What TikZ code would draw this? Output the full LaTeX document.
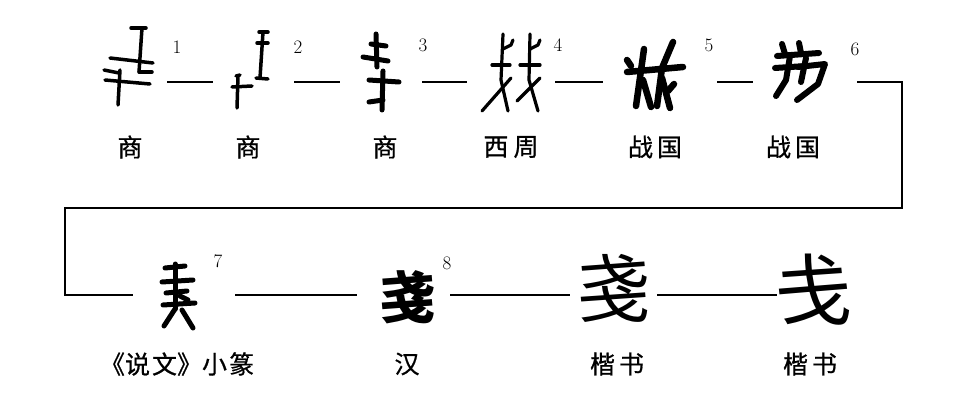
\documentclass[tikz,border=0pt]{standalone}
\usepackage{fontspec}
\newfontfamily\cjk{Noto Sans CJK SC}
\newfontfamily\cjkm[FakeBold=0.7]{Noto Sans CJK SC}
\tikzset{
  lbl/.style={font=\cjkm\fontsize{25}{25}\selectfont, inner sep=0pt},
  num/.style={font=\fontsize{19}{19}\selectfont, inner sep=0pt},
  bigglyph/.style={font=\cjk\fontsize{#1}{#1}\selectfont, inner sep=0pt},
  stk/.style={line width=#1, line cap=round, line join=round},
  stk/.default=3.5pt,
  con/.style={line width=1.6pt}
}
\begin{document}
\begin{tikzpicture}[x=1pt,y=-1pt]
\useasboundingbox (0,0) rectangle (976,403);

% ---------- row 1 glyphs (drawn) ----------
% glyph 1
\begin{scope}[stk]
\draw (131,28)--(146,28);
\draw (142,28)--(139,72);
\draw (139,72)--(152,72);
\draw (110,58)--(153,63);
\draw (104,70)--(119,73);
\draw (120,70)--(118,105);
\draw (105,80)--(150,84);
\end{scope}
% glyph 2
\begin{scope}[stk]
\draw (259,32)--(268,32);
\draw (263,32)--(260,78);
\draw (257,43)--(268,43);
\draw (256,78)--(268,79);
\draw (236,76)--(240,75);
\draw (238,76)--(237,108);
\draw (232,87)--(252,86);
\end{scope}
% glyph 3
\begin{scope}[stk=5pt]
\draw (376,34)--(377,67);
\draw (371,44)--(386,46);
\draw (363,57)--(388,61);
\draw (383,71)--(382,110);
\draw (369,80)--(399,82);
\draw (369,102)--(383,100);
\end{scope}
% glyph 4
\begin{scope}[stk=3.2pt]
\draw (503,34)--(501,80)--(508,111);
\draw (503,49)--(511,45)--(513,40);
\draw (492,65)--(510,65);
\draw (511,78)--(482,111);
\draw (530,34)--(529,80)--(538,111);
\draw (530,49)--(538,45)--(540,40);
\draw (520,65)--(540,65);
\draw (540,78)--(517,101);
\end{scope}
% glyph 5
\begin{scope}[stk=6.5pt]
\draw (627,72)--(683,67);
\draw (644,49)--(636,106);
\draw (627,60)--(631,66);
\draw (643,80)--(651,107);
\draw (673,42)--(662,68)--(657,106);
\draw (662,78)--(670,108);
\draw (668,91)--(674,84);
\end{scope}
% glyph 6
\begin{scope}[stk=6pt]
\draw (782,44)--(785,54);
\draw (799,43)--(801,53);
\draw (777,56)--(819,53);
\draw (775,68)--(806,66);
\draw (790,56)--(786,80)--(776,96);
\draw (798,67)--(825,64)--(818,84)--(797,100);
\draw (806,58)--(801,82);
\end{scope}

% ---------- row 2 glyphs ----------
% glyph 7 (seal)
\begin{scope}[stk=5pt]
\draw (175,264)--(175,309);
\draw (165,268)--(185,266);
\draw (162,282)--(193,280);
\draw (166,293)--(187,291);
\draw (163,305)--(195,303);
\draw (175,309)--(164,326);
\draw (182,310)--(193,328);
\draw (180,296)--(188,300);
\end{scope}
\node[bigglyph=56, font=\cjk\bfseries\fontsize{56}{56}\selectfont] (g8) at (407,297) {戔};
\node[bigglyph=74] (g9) at (613,288) {戔};
\node[bigglyph=78] (g10) at (813,290) {戋};

% ---------- numbers ----------
\node[num] (n1) at (177,47) {1};
\node[num] (n2) at (298,47) {2};
\node[num] (n3) at (423,45) {3};
\node[num] (n4) at (558,45) {4};
\node[num] (n5) at (709,45) {5};
\node[num] (n6) at (855,49) {6};
\node[num] (n7) at (218,261) {7};
\node[num] (n8) at (447,263) {8};

% ---------- labels ----------
\node[lbl] (l1) at (130,147) {商};
\node[lbl] (l2) at (248,147) {商};
\node[lbl] (l3) at (385,147) {商};
\node[lbl] (l4) at (511,147) {西\hspace{5pt}周};
\node[lbl] (l5) at (655,147) {战\hspace{4pt}国};
\node[lbl] (l6) at (793,147) {战\hspace{4pt}国};
\node[lbl] (l7) at (177,364) {《说\hspace{2pt}文》小\hspace{2pt}篆};
\node[lbl] (l8) at (407,364) {汉};
\node[lbl] (l9) at (617,364) {楷\hspace{4pt}书};
\node[lbl] (l10) at (810,364) {楷\hspace{4pt}书};

% ---------- connectors ----------
\coordinate (a1) at (167,82); \coordinate (b1) at (213,82);
\coordinate (a2) at (294,82); \coordinate (b2) at (340,82);
\coordinate (a3) at (422,82); \coordinate (b3) at (467,82);
\coordinate (a4) at (555,82); \coordinate (b4) at (603,82);
\coordinate (a5) at (717,82); \coordinate (b5) at (753,82);
\coordinate (a6) at (857,82); \coordinate (t1) at (902,82);
\coordinate (t2) at (902,208); \coordinate (t3) at (65,208);
\coordinate (t4) at (65,295); \coordinate (b6) at (133,295);
\coordinate (a7) at (235,295); \coordinate (b7) at (357,295);
\coordinate (a8) at (450,295); \coordinate (b8) at (570,295);
\coordinate (a9) at (657,295); \coordinate (b9) at (777,295);
\draw[con] (a1)--(b1);
\draw[con] (a2)--(b2);
\draw[con] (a3)--(b3);
\draw[con] (a4)--(b4);
\draw[con] (a5)--(b5);
\draw[con] (a6)--(t1)--(t2)--(t3)--(t4)--(b6);
\draw[con] (a7)--(b7);
\draw[con] (a8)--(b8);
\draw[con] (a9)--(b9);
\end{tikzpicture}
\end{document}
